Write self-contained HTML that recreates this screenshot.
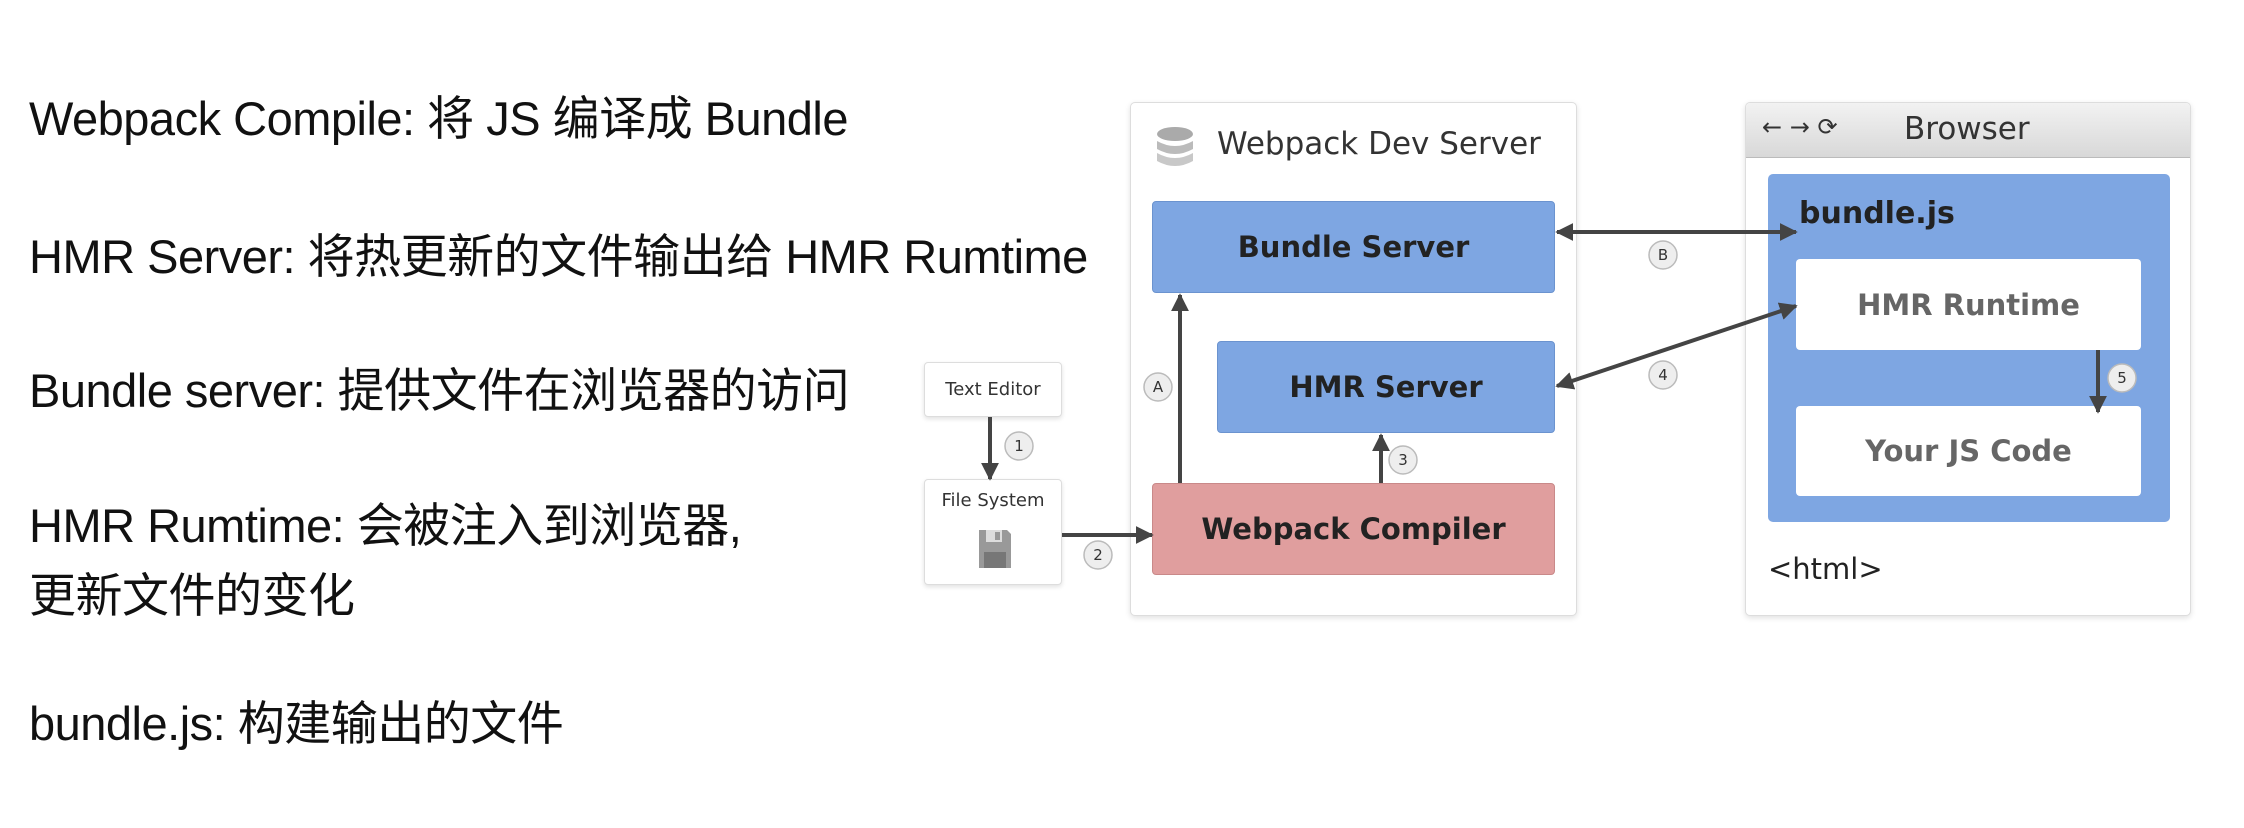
<!DOCTYPE html>
<html><head><meta charset="utf-8"><style>
body{margin:0;width:2244px;height:828px;background:#fff;position:relative;overflow:hidden;font-family:"Liberation Sans","Noto Sans CJK SC",sans-serif;}
.t{position:absolute;left:29px;font-size:47px;color:#111;white-space:nowrap;line-height:50px;letter-spacing:-0.5px;}
.b{position:absolute;box-sizing:border-box;display:flex;align-items:center;justify-content:center;font-family:"DejaVu Sans","Liberation Sans",sans-serif;}
.panel{background:#fff;border:1.5px solid #ddd;border-radius:5px;box-shadow:0 2px 6px rgba(0,0,0,.12);}
.blue{background:#7ea6e2;border:1px solid #6b93cf;border-radius:4px;color:#222;font-size:29px;font-weight:bold;}
.white{background:#fff;border-radius:4px;color:#666;font-size:29px;font-weight:bold;}
.small{background:#fff;border:1.5px solid #ddd;border-radius:4px;box-shadow:0 2px 5px rgba(0,0,0,.12);font-size:18px;color:#333;}
#d{position:absolute;left:-7px;top:0;width:2244px;height:828px;}
#br{position:absolute;left:-4px;top:0;width:2244px;height:828px;}
</style></head><body>
<div class="t" style="top:94px">Webpack Compile: 将 JS 编译成 Bundle</div>
<div class="t" style="top:232px">HMR Server: 将热更新的文件输出给 HMR Rumtime</div>
<div class="t" style="top:366px">Bundle server: 提供文件在浏览器的访问</div>
<div class="t" style="top:501px">HMR Rumtime: 会被注入到浏览器,</div>
<div class="t" style="top:571px">更新文件的变化</div>
<div class="t" style="top:699px">bundle.js: 构建输出的文件</div>

<div id="d">
<div class="b panel" style="left:1137px;top:102px;width:447px;height:514px"></div>
<svg style="position:absolute;left:1162px;top:125px" width="40" height="48"><ellipse cx="20" cy="9" rx="18" ry="7" fill="#aaa"/><path d="M2 16 q18 10 36 0 v8 q-18 10 -36 0z" fill="#bbb"/><path d="M2 28 q18 10 36 0 v8 q-18 10 -36 0z" fill="#c8c8c8"/></svg>
<div style="position:absolute;left:1224px;top:126px;font-family:'DejaVu Sans',sans-serif;font-size:31px;color:#333">Webpack Dev Server</div>
<div class="b blue" style="left:1159px;top:201px;width:403px;height:92px">Bundle Server</div>
<div class="b blue" style="left:1224px;top:341px;width:338px;height:92px">HMR Server</div>
<div class="b blue" style="left:1159px;top:483px;width:403px;height:92px;background:#e09e9e;border-color:#c98989">Webpack Compiler</div>

<div class="b small" style="left:931px;top:362px;width:138px;height:55px">Text Editor</div>
<div class="b small" style="left:931px;top:479px;width:138px;height:106px;align-items:flex-start;padding-top:10px">File System</div>
<svg style="position:absolute;left:984px;top:528px" width="36" height="42"><path d="M2 2h28l4 4v34h-32z" fill="#999"/><rect x="9" y="2" width="16" height="12" fill="#ddd"/><rect x="18" y="4" width="5" height="8" fill="#999"/><rect x="7" y="24" width="22" height="16" fill="#777"/></svg>

<div id="br">
<div class="b panel" style="left:1756px;top:102px;width:446px;height:514px;overflow:hidden;display:block">
<div style="height:54px;background:linear-gradient(#f2f2f2,#d8d8d8);border-bottom:1.5px solid #bbb;font-family:'DejaVu Sans',sans-serif;color:#333;position:relative">
<span style="position:absolute;left:16px;top:10px;font-size:24px">← → ⟳</span>
<span style="position:absolute;left:158px;top:8px;font-size:31px">Browser</span></div></div>
<div class="b" style="left:1779px;top:174px;width:402px;height:348px;background:#7ea6e2;border-radius:5px"></div>
<div style="position:absolute;left:1810px;top:196px;font-family:'DejaVu Sans',sans-serif;font-size:30px;font-weight:bold;color:#222">bundle.js</div>
<div class="b white" style="left:1807px;top:259px;width:345px;height:91px">HMR Runtime</div>
<div class="b white" style="left:1807px;top:406px;width:345px;height:90px">Your JS Code</div>
<div style="position:absolute;left:1779px;top:552px;font-family:'DejaVu Sans',sans-serif;font-size:29px;color:#222">&lt;html&gt;</div>
</div>

<svg style="position:absolute;left:0;top:0" width="2244" height="828">
<defs>
<marker id="a" viewBox="0 0 10 10" refX="9" refY="5" markerWidth="18" markerHeight="18" markerUnits="userSpaceOnUse" orient="auto-start-reverse"><path d="M0 0L10 5L0 10z" fill="#444"/></marker></defs>
<g stroke="#444" stroke-width="4" fill="none">
<line x1="1187" y1="483" x2="1187" y2="295" marker-end="url(#a)"/>
<line x1="1388" y1="483" x2="1388" y2="435" marker-end="url(#a)"/>
<line x1="997" y1="417" x2="997" y2="479" marker-end="url(#a)"/>
<line x1="1069" y1="535" x2="1159" y2="535" marker-end="url(#a)"/>
<line x1="1564" y1="232" x2="1803" y2="232" marker-start="url(#a)" marker-end="url(#a)"/>
<line x1="1564" y1="386" x2="1803" y2="306" marker-start="url(#a)" marker-end="url(#a)"/>
<line x1="2105" y1="350" x2="2105" y2="412" marker-end="url(#a)"/>
</g>
<g font-family="DejaVu Sans,sans-serif" font-size="15" fill="#333" text-anchor="middle">
<g fill="#eee" stroke="#bbb" stroke-width="1.5">
<circle cx="1165" cy="387" r="14"/><circle cx="1410" cy="460" r="14"/><circle cx="1026" cy="446" r="14"/><circle cx="1105" cy="555" r="14"/><circle cx="1670" cy="255" r="14"/><circle cx="1670" cy="375" r="14"/><circle cx="2129" cy="378" r="14"/></g>
<text x="1165" y="392">A</text><text x="1410" y="465">3</text><text x="1026" y="451">1</text><text x="1105" y="560">2</text><text x="1670" y="260">B</text><text x="1670" y="380">4</text><text x="2129" y="383">5</text>
</g></svg>
</div>
</body></html>
